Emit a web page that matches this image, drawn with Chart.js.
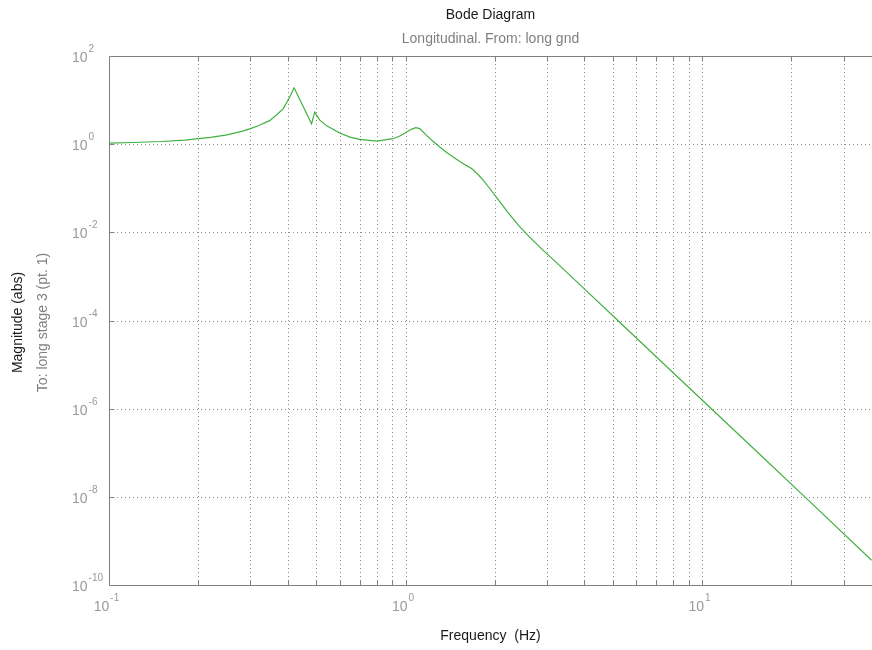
<!DOCTYPE html>
<html>
<head>
<meta charset="utf-8">
<title>Bode Diagram</title>
<script src="https://cdn.jsdelivr.net/npm/chart.js@4/dist/chart.umd.min.js"></script>
<style>
  html, body { margin: 0; padding: 0; background: #fff; }
  #bode { display: block; }
</style>
</head>
<body>
<canvas id="bode" width="872" height="650"></canvas>
<script>
// magnitude (Hz, abs)
var freqHz = [0.1, 0.12, 0.15, 0.18, 0.2, 0.22, 0.25, 0.28, 0.3, 0.32, 0.349, 0.367, 0.387, 0.407, 0.421,
	0.482, 0.494, 0.514, 0.542, 0.6, 0.649, 0.7, 0.8, 0.906, 0.96, 1.008, 1.05, 1.083, 1.117, 1.177,
	1.24, 1.305, 1.38, 1.447, 1.52, 1.6, 1.67, 1.75, 1.83, 1.92, 2.05, 2.2, 2.4, 2.6, 2.9, 3.31, 4, 5.2, 7, 10, 15, 22.2, 37.3];
var magnitude = [1.06, 1.09, 1.15, 1.24, 1.33, 1.42, 1.62, 1.95, 2.25, 2.65, 3.46, 4.6, 6.4, 11.7, 19,
	2.9, 5.3, 3.5, 2.6, 1.79, 1.45, 1.28, 1.17, 1.33, 1.55, 1.88, 2.2, 2.37, 2.25, 1.58,
	1.15, 0.86, 0.64, 0.51, 0.41, 0.33, 0.28, 0.21, 0.151, 0.1, 0.056, 0.03, 0.0145, 0.0082, 0.004, 1.76e-3, 5.3e-4, 1e-4, 1.51e-5, 1.57e-6, 1.2e-7, 1e-8, 3.65e-10];

// grid / tick positions
var xGridHz = [0.2, 0.3, 0.4, 0.5, 0.6, 0.7, 0.8, 0.9, 1, 2, 3, 4, 5, 6, 7, 8, 9, 10, 20, 30];
var yGridMag = [1, 1e-2, 1e-4, 1e-6, 1e-8];
var xDecades = [-1, 0, 1];
var yDecades = [2, 0, -2, -4, -6, -8, -10];

var titleText = 'Bode Diagram';
var subTitleText = 'Longitudinal. From: long gnd';
var xTitleText = 'Frequency  (Hz)';
var yTitleText = 'Magnitude (abs)';
var ySubTitleText = 'To: long stage 3 (pt. 1)';

var FONT = '"Liberation Sans", Arial, sans-serif';

var punti = [];
for (var i = 0; i < freqHz.length; i++) {
	punti.push({ x: freqHz[i], y: magnitude[i] });
}

// draws "10" with a raised exponent
function potenza(ctx, esp, x, y, centrato) {
	ctx.font = '14px ' + FONT;
	var wBase = ctx.measureText('10').width;
	ctx.font = '10px ' + FONT;
	var wEsp = ctx.measureText(String(esp)).width;
	var x0 = centrato ? x - (wBase + wEsp) / 2 : x;
	ctx.textAlign = 'left';
	ctx.textBaseline = 'alphabetic';
	ctx.font = '14px ' + FONT;
	ctx.fillText('10', x0, y);
	ctx.font = '10px ' + FONT;
	ctx.fillText(String(esp), x0 + wBase + 1, y - 10);
}

var assiBode = {
	id: 'assiBode',
	beforeDatasetsDraw: function(chart) {
		var ctx = chart.ctx, a = chart.chartArea;
		var sx = chart.scales.x, sy = chart.scales.y;
		ctx.save();
		ctx.strokeStyle = '#8a8a8a';
		ctx.lineWidth = 1;
		ctx.setLineDash([1, 3]);
		xGridHz.forEach(function(v) {
			var px = Math.round(sx.getPixelForValue(v)) + 0.5;
			ctx.beginPath();
			ctx.moveTo(px, a.top);
			ctx.lineTo(px, a.bottom);
			ctx.stroke();
		});
		yGridMag.forEach(function(v) {
			var py = Math.round(sy.getPixelForValue(v)) + 0.5;
			ctx.beginPath();
			ctx.moveTo(a.left, py);
			ctx.lineTo(a.right, py);
			ctx.stroke();
		});
		ctx.restore();
	},
	afterDatasetsDraw: function(chart) {
		var ctx = chart.ctx, a = chart.chartArea;
		var sx = chart.scales.x, sy = chart.scales.y;
		var l = Math.round(a.left) + 0.5, t = Math.round(a.top) + 0.5, b = Math.round(a.bottom) + 0.5;
		ctx.save();
		ctx.strokeStyle = '#7f7f7f';
		ctx.lineWidth = 1;
		ctx.beginPath();
		ctx.moveTo(a.right, t);
		ctx.lineTo(l, t);
		ctx.lineTo(l, b);
		ctx.lineTo(a.right, b);
		ctx.stroke();
		// tick marks inside the box
		ctx.beginPath();
		xGridHz.forEach(function(v) {
			var px = Math.round(sx.getPixelForValue(v)) + 0.5;
			ctx.moveTo(px, b); ctx.lineTo(px, b - 5);
			ctx.moveTo(px, t); ctx.lineTo(px, t + 5);
		});
		yGridMag.forEach(function(v) {
			var py = Math.round(sy.getPixelForValue(v)) + 0.5;
			ctx.moveTo(l, py); ctx.lineTo(l + 5, py);
		});
		ctx.stroke();

		// tick labels
		ctx.fillStyle = '#999999';
		xDecades.forEach(function(e) {
			var px = sx.getPixelForValue(Math.pow(10, e));
			potenza(ctx, e, px - 3, b + 25, true);
		});
		yDecades.forEach(function(e) {
			var py = sy.getPixelForValue(Math.pow(10, e));
			potenza(ctx, e, 72, py + 6, false);
		});

		// titles
		var cx = (a.left + a.right) / 2;
		ctx.textAlign = 'center';
		ctx.textBaseline = 'middle';
		ctx.font = '14px ' + FONT;
		ctx.fillStyle = '#1a1a1a';
		ctx.fillText(titleText, cx, 15);
		ctx.fillText(xTitleText, cx, 636);
		ctx.fillStyle = '#808080';
		ctx.fillText(subTitleText, cx, 39);

		var cy = (a.top + a.bottom) / 2 + 2;
		ctx.save();
		ctx.translate(18, cy);
		ctx.rotate(-Math.PI / 2);
		ctx.fillStyle = '#1a1a1a';
		ctx.fillText(yTitleText, 0, 0);
		ctx.restore();
		ctx.save();
		ctx.translate(43, cy);
		ctx.rotate(-Math.PI / 2);
		ctx.fillStyle = '#808080';
		ctx.fillText(ySubTitleText, 0, 0);
		ctx.restore();
		ctx.restore();
	}
};

var datos = {
	type: 'line',
	data: {
		datasets: [{
			data: punti,
			borderColor: '#40b040',
			borderWidth: 1.2,
			pointRadius: 0,
			tension: 0,
			fill: false
		}]
	},
	options: {
		responsive: false,
		devicePixelRatio: 1,
		animation: false,
		layout: { padding: { left: 109, top: 56, right: 0, bottom: 65 } },
		plugins: { legend: { display: false }, tooltip: { enabled: false } },
		scales: {
			x: { type: 'logarithmic', display: false, bounds: 'data', min: 0.1, max: 37.4 },
			y: { type: 'logarithmic', display: false, bounds: 'data', min: 1e-10, max: 100 }
		}
	},
	plugins: [assiBode]
};

var canvas = document.getElementById('bode').getContext('2d');
window.bode = new Chart(canvas, datos);
</script>
</body>
</html>
